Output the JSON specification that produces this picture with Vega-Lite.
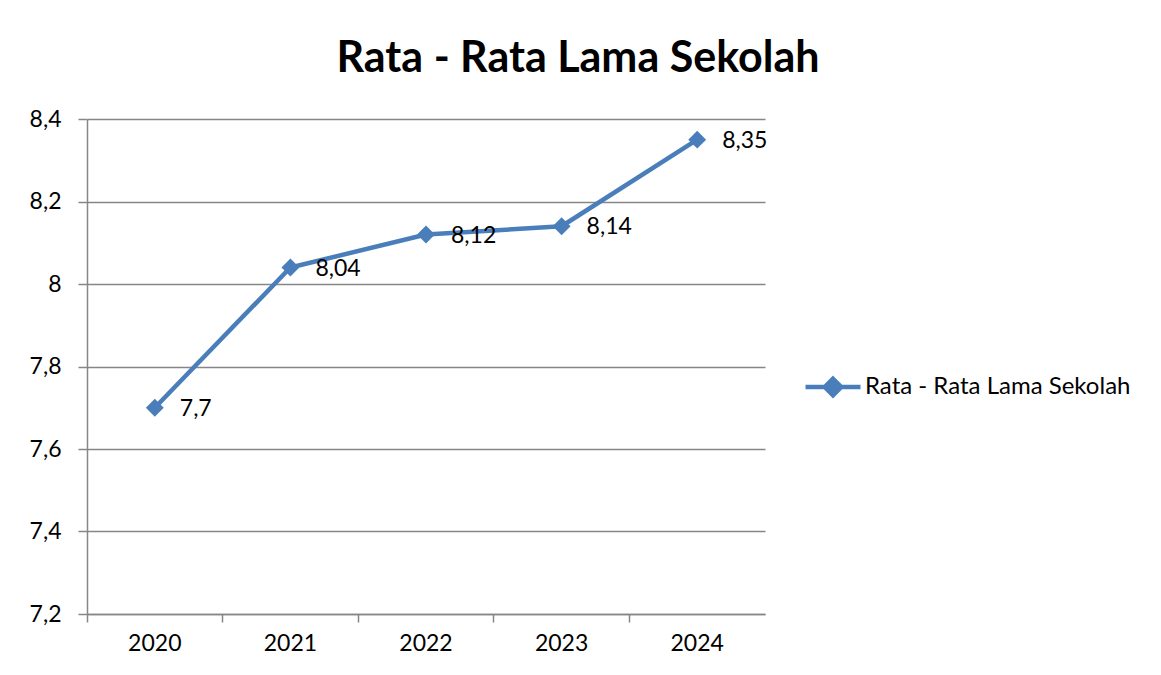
{
  "$schema": "https://vega.github.io/schema/vega-lite/v6.json",
  "autosize": "none",
  "width": 678,
  "height": 495,
  "padding": {"left": 87, "top": 119, "right": 396, "bottom": 61},
  "background": "white",
  "config": {
    "font": "Lato",
    "view": {"stroke": null},
    "locale": {"number": {"decimal": ",", "thousands": ".", "grouping": [3], "currency": ["", ""]}}
  },
  "title": {
    "text": "Rata - Rata Lama Sekolah",
    "font": "Lato",
    "fontSize": 43,
    "fontWeight": "bold",
    "color": "black",
    "anchor": "middle",
    "dx": 152,
    "offset": 27
  },
  "data": {
    "values": [
      {"tahun": "2020", "nilai": 7.7, "seri": "Rata - Rata Lama Sekolah"},
      {"tahun": "2021", "nilai": 8.04, "seri": "Rata - Rata Lama Sekolah"},
      {"tahun": "2022", "nilai": 8.12, "seri": "Rata - Rata Lama Sekolah"},
      {"tahun": "2023", "nilai": 8.14, "seri": "Rata - Rata Lama Sekolah"},
      {"tahun": "2024", "nilai": 8.35, "seri": "Rata - Rata Lama Sekolah"}
    ]
  },
  "encoding": {
    "x": {
      "field": "tahun",
      "type": "ordinal",
      "scale": {"type": "band", "paddingInner": 0, "paddingOuter": 0},
      "axis": {
        "title": null,
        "labelAngle": 0,
        "labelFontSize": 23,
        "labelColor": "black",
        "labelFont": "Lato",
        "labelPadding": 10,
        "bandPosition": 0,
        "ticks": true,
        "tickSize": 8,
        "tickColor": "#868686",
        "tickWidth": 1.5,
        "domain": true,
        "domainColor": "#868686",
        "domainWidth": 1.5,
        "grid": false
      }
    },
    "y": {
      "field": "nilai",
      "type": "quantitative",
      "scale": {"domain": [7.2, 8.4], "zero": false, "nice": false},
      "axis": {
        "title": null,
        "values": [7.2, 7.4, 7.6, 7.8, 8.0, 8.2, 8.4],
        "format": ".1~f",
        "labelFontSize": 23,
        "labelColor": "black",
        "labelFont": "Lato",
        "labelPadding": 17,
        "tickSize": 9,
        "tickColor": "#868686",
        "tickWidth": 1.5,
        "domain": true,
        "domainColor": "#868686",
        "domainWidth": 1.5,
        "grid": true,
        "gridColor": "#868686",
        "gridWidth": 1.5
      }
    }
  },
  "layer": [
    {
      "mark": {"type": "line", "strokeWidth": 4.5, "strokeCap": "round", "strokeJoin": "round"},
      "encoding": {
        "color": {
          "field": "seri",
          "type": "nominal",
          "scale": {"range": ["#4A7EBB"]},
          "legend": {
            "title": null,
            "orient": "none",
            "legendX": 716,
            "legendY": 238,
            "padding": 0,
            "symbolType": "M-1,0 H1 M0,-0.3 L0.3,0 L0,0.3 L-0.3,0 Z",
            "symbolSize": 3025,
            "symbolStrokeWidth": 4.5,
            "symbolStrokeColor": "#4A7EBB",
            "symbolFillColor": "#4A7EBB",
            "labelFontSize": 24,
            "labelFont": "Lato",
            "labelColor": "black",
            "labelOffset": 2,
            "labelLimit": 400,
            "encode": {"symbols": {"update": {"fill": {"value": "#4A7EBB"}, "stroke": {"value": "#4A7EBB"}, "strokeWidth": {"value": 4.5}}}}
          }
        }
      }
    },
    {
      "mark": {"type": "point", "shape": "diamond", "filled": true, "size": 320, "opacity": 1, "color": "#4A7EBB"}
    },
    {
      "mark": {"type": "text", "align": "left", "baseline": "middle", "dx": 25, "dy": 1, "fontSize": 23, "font": "Lato", "color": "black"},
      "encoding": {"text": {"field": "nilai", "type": "quantitative", "format": ".2~f"}}
    }
  ]
}
